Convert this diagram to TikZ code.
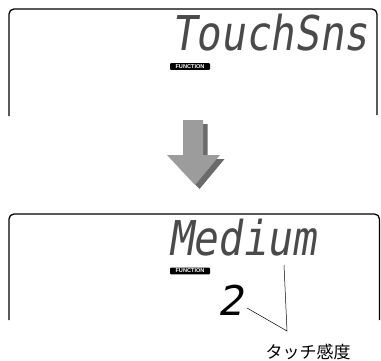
\documentclass[tikz,border=0pt]{standalone}
\usepackage{fontspec}
\newfontfamily\lcdfont[FakeSlant=0.18]{DejaVu Sans Mono}
\newfontfamily\segfont[FakeSlant=0.2]{DejaVu Sans}
\newfontfamily\labfont{Liberation Sans Bold}
\newfontfamily\cjk{Noto Sans CJK JP}
\definecolor{arrowmain}{HTML}{9C9C9C}
\definecolor{arrowshade}{HTML}{6A6A6A}
\definecolor{lcdtext}{HTML}{4A4A4A}
\tikzset{
  lcdframe/.style={line width=1.3pt, rounded corners=5pt},
  lcdword/.style={inner sep=0pt, text=lcdtext, font=\lcdfont\fontsize{41}{41}\selectfont},
  funclabel/.style={fill=black, rounded corners=1pt, inner xsep=1.5pt, inner ysep=0.8pt, minimum width=40pt, minimum height=6.7pt, text=white, font=\labfont\fontsize{5.6}{5.6}\selectfont},
  segdigit/.style={inner sep=0pt, font=\segfont\fontsize{41}{41}\selectfont},
  callout/.style={line width=0.5pt},
  jplabel/.style={inner sep=0pt, font=\cjk\fontsize{17}{17}\selectfont}
}
\begin{document}
\begin{tikzpicture}[x=1pt,y=-1pt]
\useasboundingbox (0,0) rectangle (381,360);
% top display frame
\draw[lcdframe] (9,116) -- (9,9) -- (377,9) -- (377,115);
\node[lcdword, anchor=base west] (touch) at (171,50) {\scalebox{1}[1.17]{TouchSns}};
\node[funclabel] (func1) at (190,66.5) {FUNCTION};
% arrow
\fill[arrowshade] (187.5,124) -- (207.5,124) -- (207.5,159) -- (224.5,159) -- (199.5,189) -- (171.5,159) -- (187.5,159) -- cycle;
\fill[arrowmain] (183,120) -- (203,120) -- (203,155) -- (220,155) -- (195,185) -- (167,155) -- (183,155) -- cycle;
% bottom display frame
\draw[lcdframe] (9,320) -- (9,214) -- (379.5,214) -- (379.5,320);
\node[lcdword, anchor=base west] (medium) at (168,255) {\scalebox{1}[1.17]{Medium}};
\node[funclabel] (func2) at (190,271) {FUNCTION};
\node[segdigit, anchor=base west] (two) at (217,315) {2};
% callout
\coordinate (meet) at (287,331);
\coordinate (medtail) at (284,265);
\coordinate (twotail) at (247,308);
\draw[callout] (medtail) -- (meet) -- (twotail);
\node[jplabel] (touchlab) at (308,351.5) {タッチ感度};
\end{tikzpicture}
\end{document}
